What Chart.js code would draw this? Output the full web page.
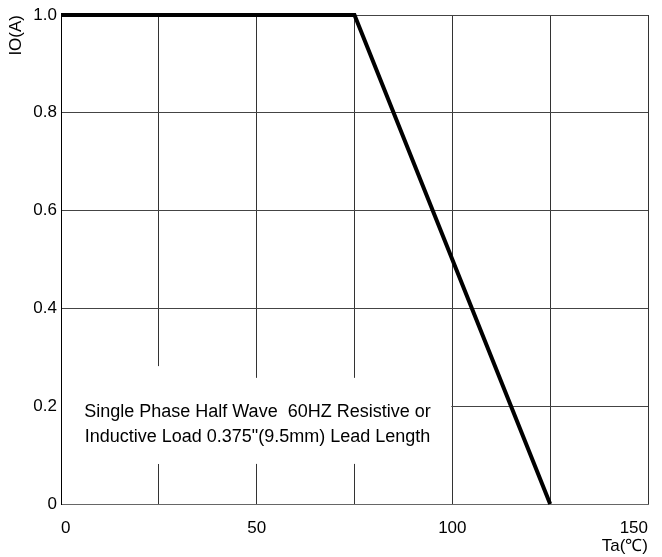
<!DOCTYPE html>
<html>
<head>
<meta charset="utf-8">
<script src="https://cdn.jsdelivr.net/npm/chart.js@4/dist/chart.umd.min.js"></script>
<style>
  html, body { margin: 0; padding: 0; background: #fff; }
  #wrap { width: 662px; height: 557px; }
</style>
</head>
<body>
<div id="wrap"><canvas id="MyChart"></canvas></div>
<script>
const temps = [0, 75, 125];
const current = [1.0, 1.0, 0];

const xTicks = [0, 25, 50, 75, 100, 125, 150];
const yTicks = [0, 0.2, 0.4, 0.6, 0.8, 1.0];

const noteLines = [
  'Single Phase Half Wave  60HZ Resistive or',
  'Inductive Load 0.375"(9.5mm) Lead Length'
];

const fontFamily = '"Liberation Sans", Arial, sans-serif';

// white patch behind the note, breaks the grid like the original
const notePlugin = {
  id: 'note',
  beforeDatasetsDraw(chart) {
    const ctx = chart.ctx;
    const x = chart.scales.x, y = chart.scales.y;
    ctx.save();
    ctx.fillStyle = '#fff';
    const left = x.getPixelForValue(0) + 1;
    const right = x.getPixelForValue(100) - 1;
    ctx.fillRect(left, y.getPixelForValue(0.258), right - left, y.getPixelForValue(0.082) - y.getPixelForValue(0.258));
    ctx.fillRect(left, y.getPixelForValue(0.282), x.getPixelForValue(40) - left, y.getPixelForValue(0.082) - y.getPixelForValue(0.282));
    ctx.restore();
  },
  afterDatasetsDraw(chart) {
    const ctx = chart.ctx;
    const x = chart.scales.x, y = chart.scales.y;
    ctx.save();
    ctx.fillStyle = '#000';
    ctx.font = '18px ' + fontFamily;
    ctx.textAlign = 'center';
    ctx.textBaseline = 'middle';
    const cx = x.getPixelForValue(50.2);
    ctx.fillText(noteLines[0], cx, y.getPixelForValue(0.188));
    ctx.fillText(noteLines[1], cx, y.getPixelForValue(0.137));
    ctx.restore();
  }
};

const data = {
  datasets: [{
    data: temps.map((t, i) => ({ x: t, y: current[i] })),
    borderColor: '#000',
    borderWidth: 4,
    pointRadius: 0,
    showLine: true,
    fill: false,
    clip: false
  }]
};

const config = {
  type: 'scatter',
  data: data,
  options: {
    responsive: true,
    maintainAspectRatio: false,
    animation: false,
    layout: { padding: { left: 0, right: 13, top: 15, bottom: 0 } },
    plugins: {
      legend: { display: false },
      tooltip: { enabled: false }
    },
    scales: {
      x: {
        type: 'linear',
        min: 0,
        max: 150,
        afterBuildTicks: s => { s.ticks = xTicks.map(v => ({ value: v })); },
        afterFit: s => { s.height = 53; },
        grid: { color: '#333', lineWidth: 1, drawTicks: false },
        border: { color: '#666', width: 1 },
        ticks: {
          color: '#000',
          font: { size: 17, family: fontFamily },
          padding: 14,
          align: 'inner',
          maxRotation: 0,
          autoSkip: false,
          callback: v => (v % 50 === 0 ? String(v) : '')
        },
        title: {
          display: true,
          text: 'Ta(℃)',
          align: 'end',
          color: '#000',
          font: { size: 17, family: fontFamily },
          padding: { top: -2, bottom: 0 }
        }
      },
      y: {
        type: 'linear',
        min: 0,
        max: 1.0,
        afterBuildTicks: s => { s.ticks = yTicks.map(v => ({ value: v })); },
        afterFit: s => { s.width = 61; },
        grid: { color: '#444', lineWidth: 1, drawTicks: false },
        border: { color: '#000', width: 1 },
        ticks: {
          color: '#000',
          font: { size: 17, family: fontFamily },
          padding: 4,
          callback: v => (v === 0 ? '0' : v.toFixed(1))
        },
        title: {
          display: true,
          text: 'IO(A)',
          align: 'end',
          color: '#000',
          font: { size: 17, family: fontFamily },
          padding: { top: 6, bottom: 0 }
        }
      }
    }
  },
  plugins: [notePlugin]
};

const myChart = new Chart(document.getElementById('MyChart'), config);
</script>
</body>
</html>
